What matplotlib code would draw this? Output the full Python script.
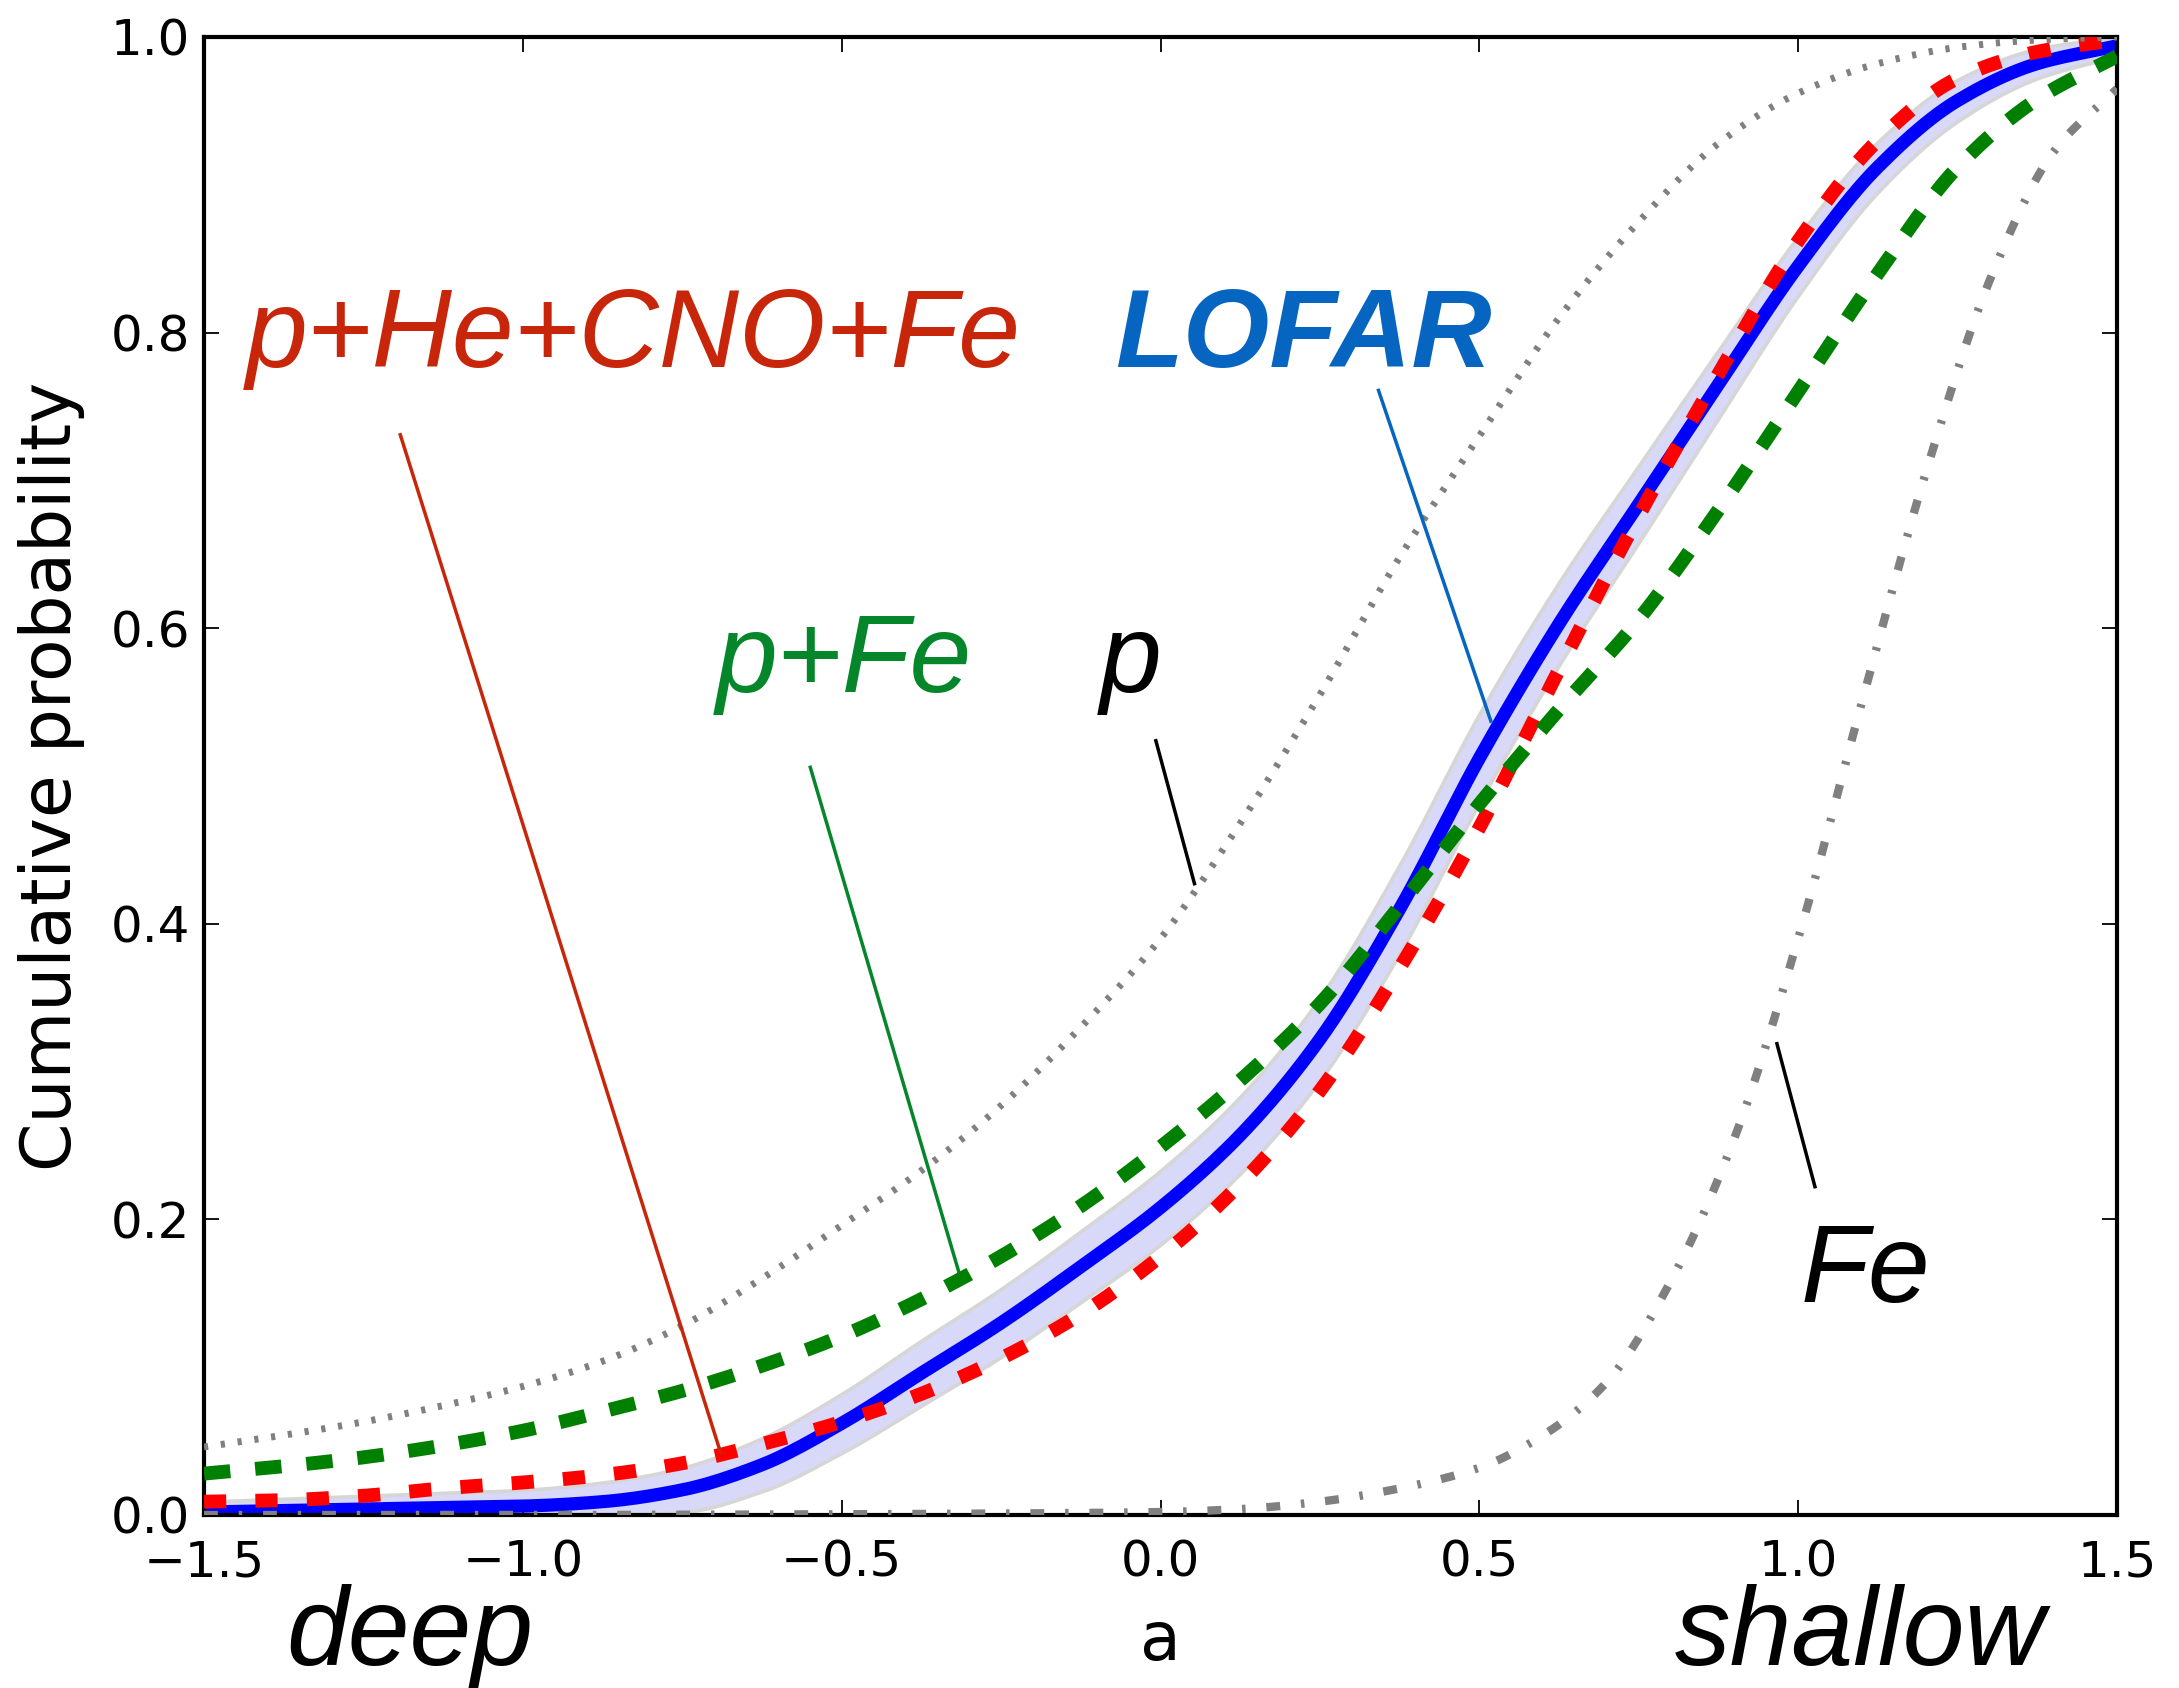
import numpy as np
import matplotlib
matplotlib.use("Agg")
import matplotlib.pyplot as plt
from matplotlib.ticker import FormatStrFormatter

plt.rcParams['lines.scale_dashes'] = False
plt.rcParams['font.family'] = ['DejaVu Sans']

# ---------------- data ----------------
x_grid = [-1.5, -1.375, -1.25, -1.125, -1.0, -0.875, -0.75, -0.625, -0.5, -0.375,
          -0.25, -0.125, 0.0, 0.125, 0.25, 0.375, 0.5, 0.625, 0.75, 0.875,
          1.0, 1.125, 1.25, 1.375, 1.5]

lofar = [0.002, 0.003, 0.004, 0.005, 0.006, 0.009, 0.017, 0.034, 0.062, 0.096,
         0.130, 0.168, 0.208, 0.257, 0.322, 0.410, 0.512, 0.603, 0.684, 0.765,
         0.845, 0.912, 0.957, 0.982, 0.994]
lofar_lo = [0.000, 0.000, 0.000, 0.000, 0.000, 0.000, 0.002, 0.016, 0.042, 0.074,
            0.107, 0.144, 0.183, 0.231, 0.294, 0.380, 0.482, 0.575, 0.658, 0.742,
            0.825, 0.895, 0.943, 0.972, 0.987]
lofar_hi = [0.009, 0.011, 0.013, 0.015, 0.017, 0.022, 0.032, 0.052, 0.082, 0.118,
            0.153, 0.192, 0.233, 0.283, 0.350, 0.440, 0.542, 0.631, 0.710, 0.788,
            0.865, 0.929, 0.971, 0.992, 1.000]

mix4 = [0.009, 0.010, 0.013, 0.018, 0.022, 0.027, 0.035, 0.048, 0.063, 0.082,
        0.106, 0.136, 0.175, 0.224, 0.287, 0.370, 0.465, 0.572, 0.676, 0.772,
        0.862, 0.930, 0.972, 0.990, 0.998]

p_fe = [0.028, 0.033, 0.039, 0.047, 0.057, 0.070, 0.084, 0.101, 0.121, 0.146,
        0.175, 0.209, 0.249, 0.294, 0.346, 0.412, 0.481, 0.545, 0.606, 0.680,
        0.760, 0.840, 0.912, 0.958, 0.987]

p_only = [0.046, 0.054, 0.063, 0.074, 0.087, 0.104, 0.128, 0.160, 0.196, 0.233,
          0.277, 0.330, 0.390, 0.468, 0.555, 0.648, 0.730, 0.810, 0.875, 0.928,
          0.962, 0.982, 0.993, 0.998, 1.000]

x_fe = [-1.5, -1.0, -0.5, -0.25, 0.0, 0.125, 0.25, 0.375, 0.5, 0.6, 0.7, 0.8,
        0.9, 1.0, 1.1, 1.2, 1.3, 1.4, 1.5]
fe_only = [0.0, 0.0, 0.0005, 0.001, 0.002, 0.004, 0.009, 0.018, 0.032, 0.054,
           0.090, 0.158, 0.255, 0.390, 0.550, 0.705, 0.835, 0.922, 0.965]

x_ticks = [-1.5, -1.0, -0.5, 0.0, 0.5, 1.0, 1.5]
y_ticks = [0.0, 0.2, 0.4, 0.6, 0.8, 1.0]

# labels: text, colour, weight, text anchor (data), pointer start, pointer end
labels = [
    ("p+He+CNO+Fe", "#c8260a", "normal", (-1.434, 0.777), (-1.193, 0.732), (-0.689, 0.041)),
    ("LOFAR", "#0565c0", "bold", (-0.071, 0.777), (0.341, 0.762), (0.519, 0.536)),
    ("p+Fe", "#05862a", "normal", (-0.697, 0.557), (-0.550, 0.507), (-0.316, 0.164)),
    ("p", "black", "normal", (-0.095, 0.557), (-0.008, 0.525), (0.054, 0.426)),
    ("Fe", "black", "normal", (1.004, 0.144), (0.966, 0.320), (1.027, 0.221)),
]


def smooth(xs, ys, n=12):
    """Monotone cubic (Fritsch-Carlson) rendering path through the read points."""
    x = np.asarray(xs, float)
    y = np.asarray(ys, float)
    h = np.diff(x)
    d = np.diff(y) / h
    m = np.zeros_like(y)
    m[0], m[-1] = d[0], d[-1]
    for i in range(1, len(x) - 1):
        if d[i - 1] * d[i] <= 0:
            m[i] = 0.0
        else:
            w1 = 2 * h[i] + h[i - 1]
            w2 = h[i] + 2 * h[i - 1]
            m[i] = (w1 + w2) / (w1 / d[i - 1] + w2 / d[i])
    xo, yo = [], []
    for i in range(len(x) - 1):
        t = np.linspace(0, 1, n, endpoint=False)
        h00 = 2 * t**3 - 3 * t**2 + 1
        h10 = t**3 - 2 * t**2 + t
        h01 = -2 * t**3 + 3 * t**2
        h11 = t**3 - t**2
        xo.append(x[i] + t * h[i])
        yo.append(h00 * y[i] + h10 * h[i] * m[i] + h01 * y[i + 1] + h11 * h[i] * m[i + 1])
    xo.append([x[-1]])
    yo.append([y[-1]])
    return np.concatenate(xo), np.concatenate(yo)


# ---------------- figure ----------------
W, H = 2179, 1688
fig = plt.figure(figsize=(W / 100, H / 100), dpi=100)
ax = fig.add_axes([204 / W, 1 - 1515 / H, (2117 - 204) / W, (1515 - 37) / H])

bx, blo = smooth(x_grid, lofar_lo)
_, bhi = smooth(x_grid, lofar_hi)
ax.fill_between(bx, np.clip(blo, 0, 1), np.clip(bhi, 0, 1), facecolor="#d8d8f8",
                edgecolor="#d6d6d6", linewidth=2.6, zorder=1)
ax.plot(*smooth(x_grid, lofar), color="#0000ff", lw=9.5, solid_capstyle="butt", zorder=2)
ax.plot(*smooth(x_grid, mix4), color="#ff0000", lw=10, dashes=(16, 21), zorder=3)
ax.plot(*smooth(x_grid, p_fe), color="#008000", lw=10, dashes=(19, 18), zorder=3)
ax.plot(*smooth(x_grid, p_only), color="#808080", lw=5, dashes=(3, 9.2), zorder=3)
ax.plot(*smooth(x_fe, fe_only), color="#808080", lw=6, dashes=(10, 15, 2.5, 15), zorder=3)

for txt, col, wt, tpos, p0, p1 in labels:
    ax.text(tpos[0], tpos[1], txt, color=col, fontsize=80, fontweight=wt,
            fontstyle="italic", family="Liberation Sans", ha="left", va="baseline",
            zorder=5)
    ax.plot([p0[0], p1[0]], [p0[1], p1[1]], color=col, lw=2.5, zorder=5,
            solid_capstyle="butt")

ax.set_xlim(-1.5, 1.5)
ax.set_ylim(0.0, 1.0)
ax.set_xticks(x_ticks)
ax.set_yticks(y_ticks)
ax.yaxis.set_major_formatter(FormatStrFormatter("%.1f"))
ax.tick_params(direction="in", length=11, width=1.3, labelsize=36,
               top=True, right=True)
ax.tick_params(axis="y", pad=10)
ax.tick_params(axis="x", pad=17)
for s in ax.spines.values():
    s.set_linewidth(3)

ax.set_ylabel("Cumulative probability", fontsize=50)
ax.yaxis.set_label_coords(-0.062, 0.5)
ax.set_xlabel("a", fontsize=48)
ax.xaxis.label.set_va("baseline")
ax.xaxis.set_label_coords(0.5, (1515 - 1660) / 1478)

fig.text(286 / W, 1 - 1665 / H, "deep", fontsize=80, fontstyle="italic",
         family="Liberation Sans", ha="left", va="baseline")
fig.text(1675 / W, 1 - 1665 / H, "shallow", fontsize=80, fontstyle="italic",
         family="Liberation Sans", ha="left", va="baseline")

fig.savefig("out.png", dpi=100)
